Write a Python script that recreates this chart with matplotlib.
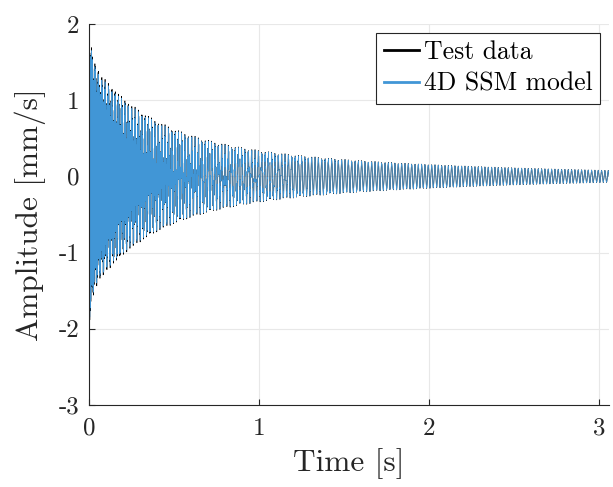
import numpy as np
import matplotlib
matplotlib.use("Agg")
import matplotlib.pyplot as plt

plt.rcParams['font.family'] = 'serif'
plt.rcParams['font.serif'] = ['cmr10']
plt.rcParams['mathtext.fontset'] = 'cm'

# two-mode free decay, velocity in mm/s
fs = 4000.0                      # sampling rate [Hz]
t_end = 3.1                      # record length [s]
mode_freq = [317.3, 51.0]        # [Hz]
mode_phase = [0.0, 1.1]
# each mode amplitude is a sum of exponentials a*exp(-r*t)
model_amp = [[1.40, 0.48], [0.546, -0.43]]
model_rate = [[3.0, 60.0], [0.64, 3.0]]
test_amp = [[1.43, 0.48], [0.557, -0.43]]
test_rate = [[3.0, 60.0], [0.64, 3.0]]

xticks = [0, 1, 2, 3]
yticks = [-3, -2, -1, 0, 1, 2]
ytick_labels = ['-3', '-2', '-1', '0', '1', '2']

t = np.arange(0, t_end, 1 / fs)

def response(amps, rates):
    x = np.zeros_like(t)
    for a_list, r_list, f, p in zip(amps, rates, mode_freq, mode_phase):
        env = sum(a * np.exp(-r * t) for a, r in zip(a_list, r_list))
        x += env * np.cos(2 * np.pi * f * t + p)
    return x

x_test = response(test_amp, test_rate)
x_model = response(model_amp, model_rate)

fig = plt.figure(figsize=(6.13, 4.87), dpi=100)
ax = fig.add_axes([0.1452, 0.1684, 0.8483, 0.7823])

ax.plot(t, x_test, color='k', lw=0.45, label='Test data')
ax.plot(t, x_model, color='#4196d6', lw=0.45, label='4D SSM model')

ax.set_xlim(0, 3.06)
ax.set_ylim(-3, 2)
ax.set_xticks(xticks)
ax.set_xticklabels([str(v) for v in xticks])
ax.set_yticks(yticks)
ax.set_yticklabels(ytick_labels)
ax.grid(True, color='#e8e8e8', lw=0.8)
ax.set_axisbelow(True)
for s in ['top', 'right']:
    ax.spines[s].set_visible(False)
for s in ['left', 'bottom']:
    ax.spines[s].set_color('#262626')
    ax.spines[s].set_linewidth(0.8)
ax.tick_params(direction='in', length=4, width=0.8, color='#262626',
               labelsize=18, labelcolor='#262626')
ax.tick_params(axis='x', pad=9)
ax.tick_params(axis='y', pad=7)

ax.set_xlabel('Time [s]', fontsize=22.5, color='#262626', labelpad=6)
ax.set_ylabel('Amplitude [mm/s]', fontsize=22.5, color='#262626', labelpad=9)

leg = ax.legend(loc='upper right', fontsize=18.5, frameon=True, fancybox=False,
                edgecolor='#262626', framealpha=1, handlelength=1.35,
                handletextpad=0.2, borderpad=0.3, labelspacing=0.3,
                borderaxespad=0.35)
leg.get_frame().set_linewidth(0.8)
for line in leg.get_lines():
    line.set_linewidth(2.0)

fig.savefig('out.png', dpi=100)
